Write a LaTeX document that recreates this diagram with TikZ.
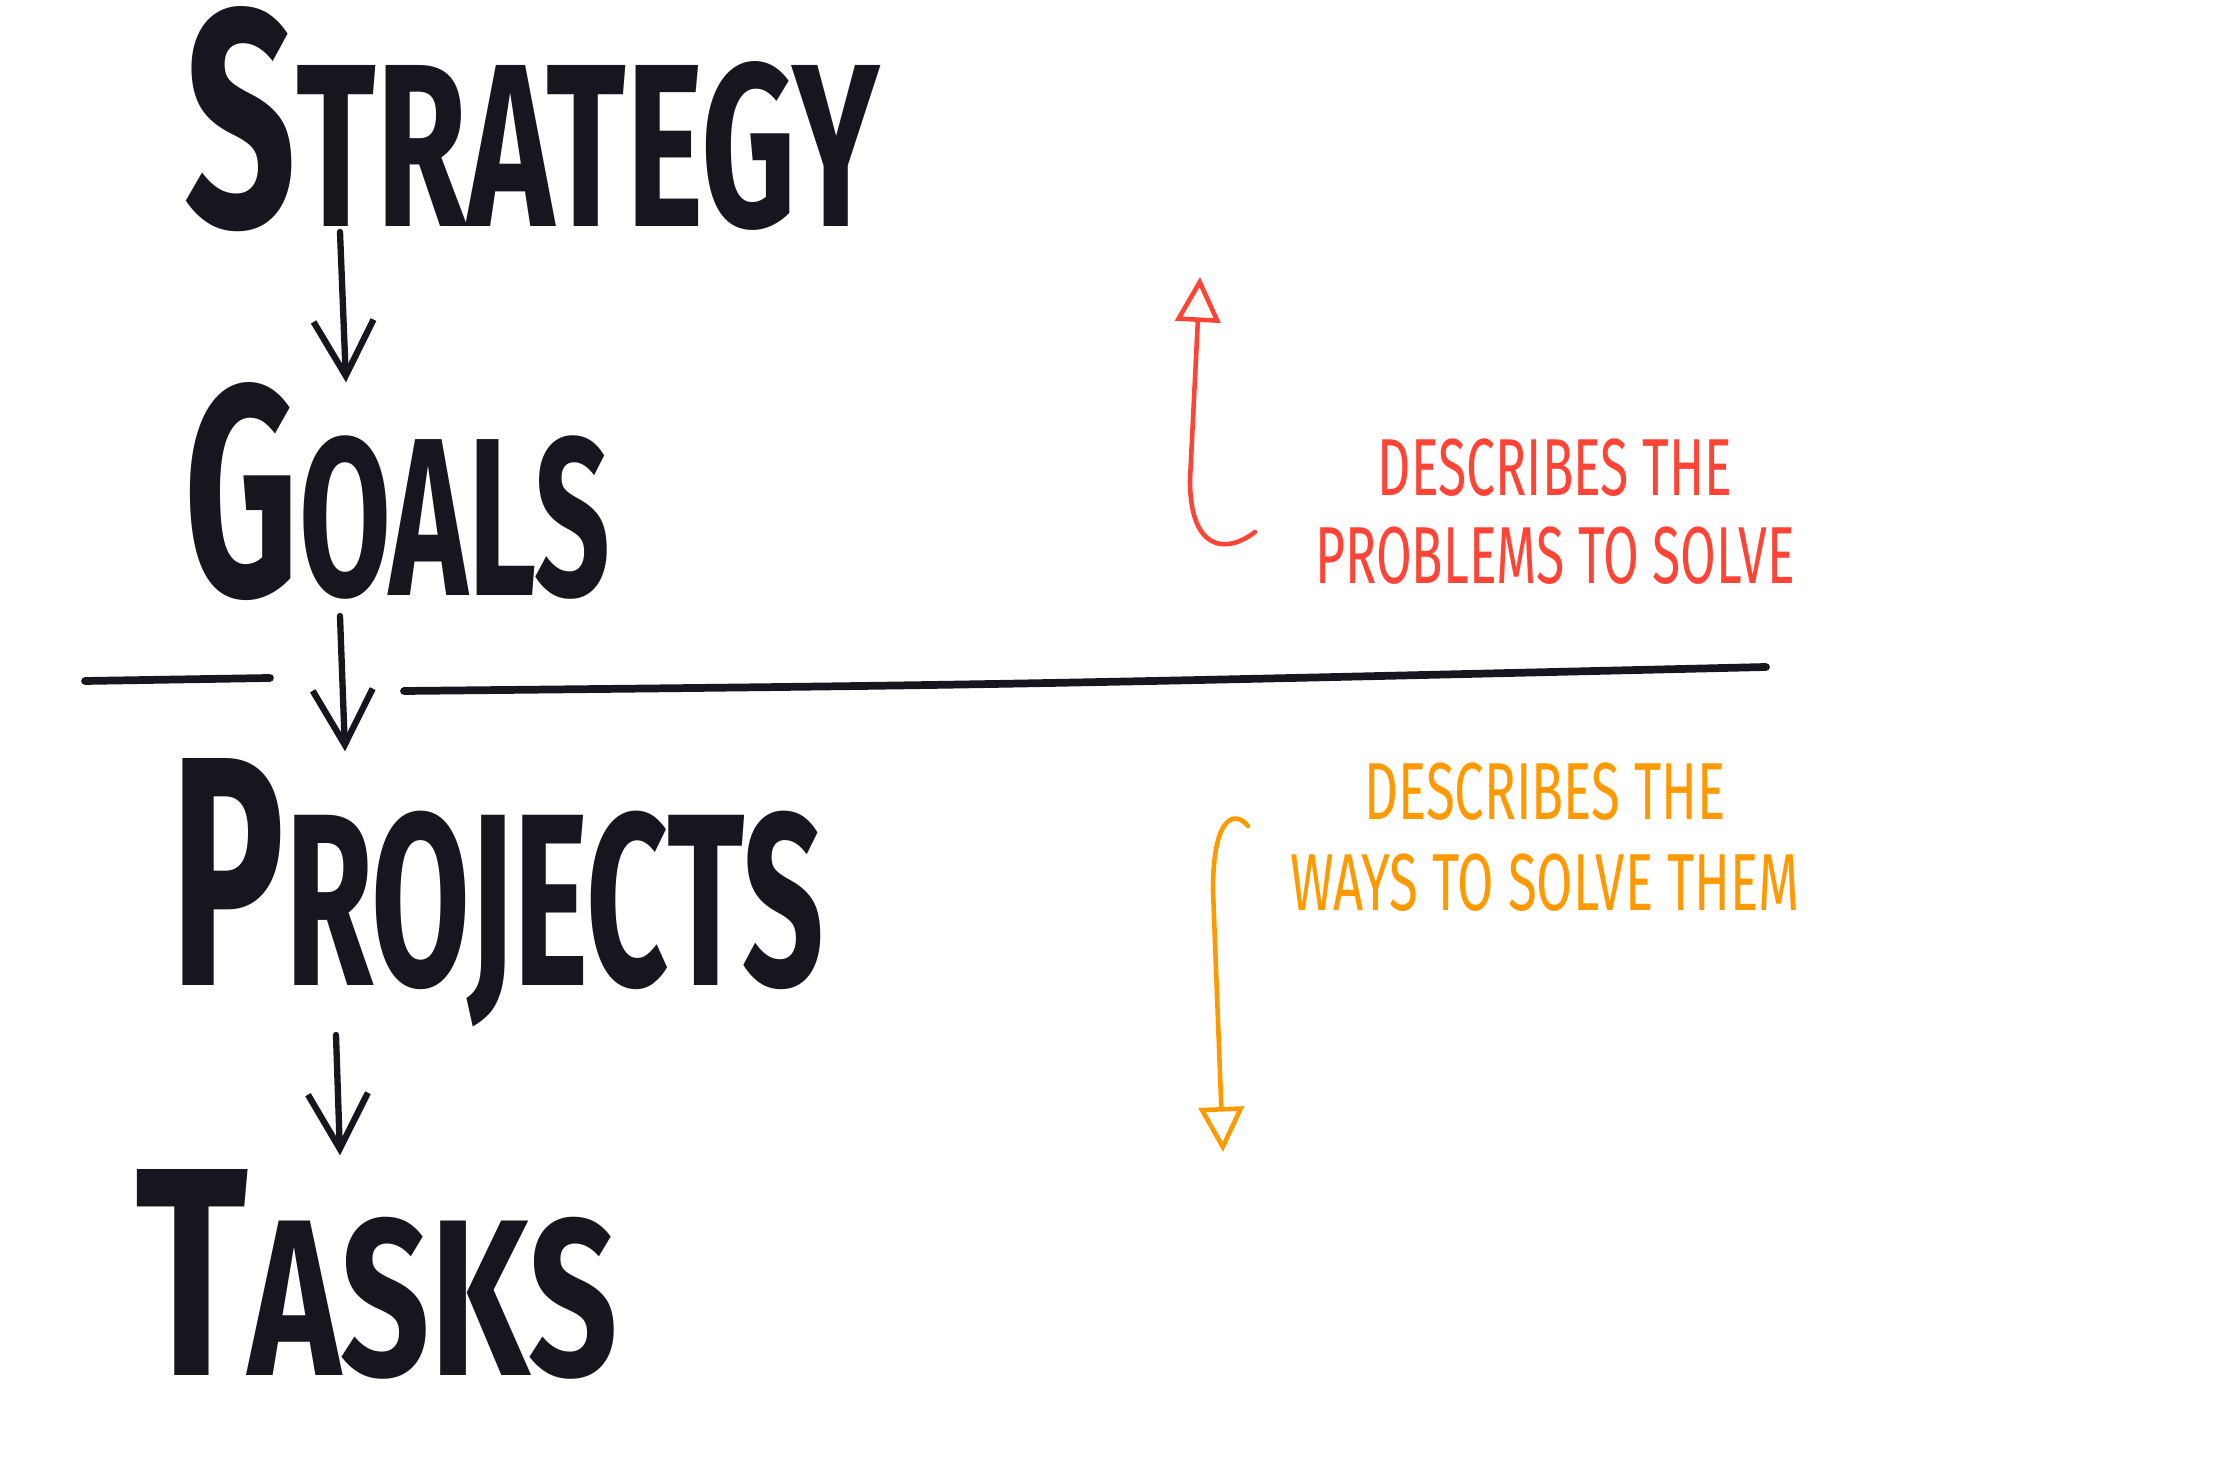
\documentclass[tikz,border=0pt]{standalone}
\usepackage{fontspec}
\setmainfont{Fira Sans}
\usepackage{graphicx}
\usetikzlibrary{arrows.meta,positioning}

\definecolor{ink}{HTML}{17161F}
\definecolor{redpen}{HTML}{FF4436}
\definecolor{orangepen}{HTML}{FF9900}

% big first letter, smaller rest, squeezed to w x h
\newcommand{\handword}[4]{\resizebox{#1}{#2}{\fontsize{40}{40}\selectfont #3\fontsize{30}{30}\selectfont #4}}

\begin{document}
\begin{tikzpicture}[
      word/.style={inner sep=0pt, anchor=base west, text=ink, font=\bfseries},
      flow/.style={-{Straight Barb[length=5.5mm, width=6mm]}, ink, line width=1.8pt, line cap=round},
      rule/.style={ink, line width=2.2pt, line cap=round},
      note/.style={align=center, inner sep=0pt, xscale=0.64, transform shape},
      notearrow/.style={-{Triangle[open, length=4.5mm, width=4.5mm]}, line width=1.3pt, line cap=round}
    ]
    \useasboundingbox (0,0) rectangle (22.24,-14.70);
    \node[word] (strategy) at (1.84,-2.27) {\handword{6.95cm}{2.2cm}{S}{TRATEGY}};
    \node[word] (goals) at (1.84,-5.96) {\handword{4.26cm}{2.13cm}{G}{OALS}};
    \node[word] (projects) at (1.70,-9.86) {\handword{6.53cm}{2.27cm}{P}{ROJECTS}};
    \node[word] (tasks) at (1.35,-13.76) {\handword{4.82cm}{2.06cm}{T}{ASKS}};
    \draw[flow] ([xshift=1.56cm, yshift=-0.05cm]strategy.base west) -- ([xshift=1.62cm]goals.north west);
    \draw[flow] ([xshift=1.56cm, yshift=-0.2cm]goals.base west) -- ([xshift=1.75cm, yshift=0.07cm]projects.north west);
    \draw[flow] ([xshift=1.66cm, yshift=-0.49cm]projects.base west) -- ([xshift=2.05cm, yshift=0.14cm]tasks.north west);
    % divider
    \draw[rule] (0.85,-6.81) -- (2.70,-6.78);
    \draw[rule] (4.04,-6.91) .. controls (10,-6.85) .. (17.66,-6.67);
    % notes
    \node[note, text=redpen, font=\fontsize{23}{25}\selectfont] (problems) at (15.55,-5.12) {DESCRIBES THE\\PROBLEMS TO SOLVE};
    \node[note, text=orangepen, font=\fontsize{23}{26}\selectfont, xscale=1.02] (ways) at (15.45,-8.37) {DESCRIBES THE\\WAYS TO SOLVE THEM};
    \draw[notearrow, redpen] (12.55,-5.32) .. controls (12.25,-5.55) and (11.9,-5.5) .. (11.9,-4.8) -- (12.0,-2.77);
    \draw[notearrow, orangepen] (12.48,-8.26) .. controls (12.35,-8.10) and (12.13,-8.15) .. (12.13,-8.9) -- (12.23,-11.52);
  \end{tikzpicture}
\end{document}
